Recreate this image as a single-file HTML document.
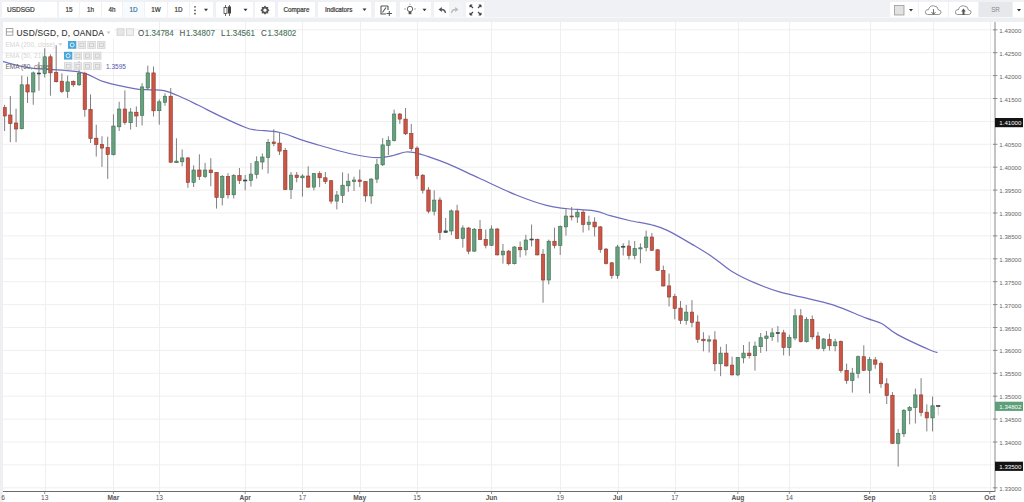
<!DOCTYPE html>
<html><head><meta charset="utf-8">
<style>
*{margin:0;padding:0;box-sizing:border-box}
html,body{width:1024px;height:502px;overflow:hidden;background:#fff;font-family:"Liberation Sans",sans-serif}
#tb{position:absolute;left:0;top:0;width:1024px;height:17px;background:#eff1f4}
#sep{position:absolute;left:0;top:17px;width:1024px;height:5px;background:#edf0f3;border-top:1px solid #f7f8fa}
.bt{position:absolute;top:2px;height:15px;background:#fff;color:#383838;font-size:6.3px;line-height:15px;text-align:center;-webkit-text-stroke:0.2px #383838}
svg{position:absolute;left:0;top:0}
.pl{font-size:6.1px;fill:#666}
.tl{font-size:6.6px;fill:#555}
.b{font-weight:bold}
.lg{position:absolute;white-space:nowrap}
.ohlc{top:28.2px;font-size:8px;color:#4a7159;-webkit-text-stroke:0.1px #4a7159;transform:scaleY(1.15);transform-origin:0 0}
</style></head><body>
<svg width="1024" height="502" viewBox="0 0 1024 502">
<g stroke="#efeff0" stroke-width="1">
<line x1="45.5" y1="22" x2="45.5" y2="491"/>
<line x1="113.5" y1="22" x2="113.5" y2="491"/>
<line x1="159.5" y1="22" x2="159.5" y2="491"/>
<line x1="245.5" y1="22" x2="245.5" y2="491"/>
<line x1="302.5" y1="22" x2="302.5" y2="491"/>
<line x1="360.5" y1="22" x2="360.5" y2="491"/>
<line x1="417.5" y1="22" x2="417.5" y2="491"/>
<line x1="491.5" y1="22" x2="491.5" y2="491"/>
<line x1="560.5" y1="22" x2="560.5" y2="491"/>
<line x1="618.5" y1="22" x2="618.5" y2="491"/>
<line x1="675.5" y1="22" x2="675.5" y2="491"/>
<line x1="738.5" y1="22" x2="738.5" y2="491"/>
<line x1="789.5" y1="22" x2="789.5" y2="491"/>
<line x1="870.5" y1="22" x2="870.5" y2="491"/>
<line x1="933.5" y1="22" x2="933.5" y2="491"/>
<line x1="990.5" y1="22" x2="990.5" y2="491"/>
<line x1="2" y1="29.80" x2="995" y2="29.80"/>
<line x1="2" y1="52.70" x2="995" y2="52.70"/>
<line x1="2" y1="75.60" x2="995" y2="75.60"/>
<line x1="2" y1="98.50" x2="995" y2="98.50"/>
<line x1="2" y1="121.40" x2="995" y2="121.40"/>
<line x1="2" y1="144.30" x2="995" y2="144.30"/>
<line x1="2" y1="167.20" x2="995" y2="167.20"/>
<line x1="2" y1="190.10" x2="995" y2="190.10"/>
<line x1="2" y1="213.00" x2="995" y2="213.00"/>
<line x1="2" y1="235.90" x2="995" y2="235.90"/>
<line x1="2" y1="258.80" x2="995" y2="258.80"/>
<line x1="2" y1="281.70" x2="995" y2="281.70"/>
<line x1="2" y1="304.60" x2="995" y2="304.60"/>
<line x1="2" y1="327.50" x2="995" y2="327.50"/>
<line x1="2" y1="350.40" x2="995" y2="350.40"/>
<line x1="2" y1="373.30" x2="995" y2="373.30"/>
<line x1="2" y1="396.20" x2="995" y2="396.20"/>
<line x1="2" y1="419.10" x2="995" y2="419.10"/>
<line x1="2" y1="442.00" x2="995" y2="442.00"/>
<line x1="2" y1="464.90" x2="995" y2="464.90"/>
<line x1="2" y1="487.80" x2="995" y2="487.80"/>
</g>
<path d="M0.0,61.0 C0.5,61.1 -2.1,60.5 3.2,61.7 C8.5,62.9 19.1,66.4 31.9,68.1 C44.6,69.8 67.8,69.8 79.7,72.1 C91.7,74.4 94.3,78.9 103.6,81.7 C112.9,84.5 127.8,87.5 135.5,88.8 C143.2,90.1 145.2,89.5 150.0,89.8 C154.8,90.1 159.0,89.5 164.0,90.6 C169.0,91.7 174.4,94.1 180.0,96.5 C185.6,98.9 190.9,101.6 197.8,105.0 C204.8,108.4 213.7,113.2 221.7,116.9 C229.7,120.7 239.9,125.3 245.6,127.5 C251.3,129.7 250.3,129.2 256.0,130.0 C261.7,130.8 272.5,130.9 279.8,132.5 C287.1,134.1 293.6,137.2 300.0,139.3 C306.4,141.4 312.5,143.2 318.5,145.0 C324.5,146.8 330.3,148.5 335.9,150.0 C341.5,151.5 346.5,152.8 351.9,154.0 C357.3,155.2 363.6,156.4 368.5,157.0 C373.4,157.6 376.9,157.8 381.0,157.5 C385.1,157.2 388.8,156.4 393.0,155.5 C397.2,154.6 402.2,152.4 406.0,152.0 C409.8,151.6 412.8,152.4 416.0,153.0 C419.2,153.6 419.8,153.7 425.0,155.5 C430.2,157.3 438.4,159.9 447.5,163.7 C456.6,167.5 467.9,173.1 479.4,178.3 C490.8,183.5 505.0,190.5 516.2,195.0 C527.4,199.5 538.3,203.2 546.5,205.4 C554.7,207.7 557.6,207.6 565.6,208.5 C573.6,209.4 586.9,209.7 594.3,210.9 C601.7,212.1 604.4,214.1 610.2,215.7 C616.1,217.3 622.5,218.9 629.4,220.5 C636.3,222.1 645.5,223.3 651.9,225.0 C658.3,226.7 661.2,227.4 667.8,230.6 C674.4,233.8 684.3,239.7 691.7,244.1 C699.1,248.5 705.8,252.4 712.4,256.9 C719.0,261.4 724.4,266.8 731.6,271.2 C738.8,275.6 747.5,279.8 755.5,283.2 C763.5,286.6 771.7,289.6 779.4,291.9 C787.1,294.2 792.8,295.0 801.9,297.2 C811.0,299.4 823.1,301.7 833.7,305.1 C844.3,308.6 857.6,314.8 865.6,317.9 C873.6,321.0 876.3,320.7 881.6,323.5 C886.9,326.3 889.5,330.2 897.5,334.6 C905.5,339.0 922.7,346.8 929.4,349.8 C936.1,352.8 936.1,352.1 937.5,352.5" fill="none" stroke="#6e6ebf" stroke-width="1.25" stroke-linejoin="round"/>
<g>
<line x1="4.60" y1="104.8" x2="4.60" y2="131.0" stroke="#727274" stroke-width="0.9"/>
<rect x="2.90" y="107.6" width="3.4" height="8.4" fill="#cc5646" stroke="#8e3a2f" stroke-width="0.6"/>
<line x1="10.33" y1="96.0" x2="10.33" y2="142.2" stroke="#727274" stroke-width="0.9"/>
<rect x="8.63" y="115.0" width="3.4" height="8.6" fill="#cc5646" stroke="#8e3a2f" stroke-width="0.6"/>
<line x1="16.06" y1="108.7" x2="16.06" y2="142.2" stroke="#727274" stroke-width="0.9"/>
<rect x="14.36" y="123.0" width="3.4" height="6.0" fill="#cc5646" stroke="#8e3a2f" stroke-width="0.6"/>
<line x1="21.79" y1="75.6" x2="21.79" y2="129.5" stroke="#727274" stroke-width="0.9"/>
<rect x="20.09" y="84.8" width="3.4" height="43.9" fill="#66a07f" stroke="#3d7052" stroke-width="0.6"/>
<line x1="27.52" y1="76.7" x2="27.52" y2="103.0" stroke="#727274" stroke-width="0.9"/>
<rect x="25.82" y="84.8" width="3.4" height="7.2" fill="#cc5646" stroke="#8e3a2f" stroke-width="0.6"/>
<line x1="33.24" y1="71.5" x2="33.24" y2="104.8" stroke="#727274" stroke-width="0.9"/>
<rect x="31.54" y="72.9" width="3.4" height="19.1" fill="#66a07f" stroke="#3d7052" stroke-width="0.6"/>
<line x1="38.97" y1="62.0" x2="38.97" y2="90.7" stroke="#727274" stroke-width="0.9"/>
<rect x="37.27" y="73.0" width="3.4" height="1.0" fill="#42594e" stroke="#2f433a" stroke-width="0.6"/>
<line x1="44.70" y1="48.3" x2="44.70" y2="77.5" stroke="#727274" stroke-width="0.9"/>
<rect x="43.00" y="56.8" width="3.4" height="16.8" fill="#66a07f" stroke="#3d7052" stroke-width="0.6"/>
<line x1="50.43" y1="54.3" x2="50.43" y2="95.7" stroke="#727274" stroke-width="0.9"/>
<rect x="48.73" y="56.8" width="3.4" height="16.1" fill="#cc5646" stroke="#8e3a2f" stroke-width="0.6"/>
<line x1="56.16" y1="45.3" x2="56.16" y2="82.5" stroke="#727274" stroke-width="0.9"/>
<rect x="54.46" y="72.5" width="3.4" height="9.2" fill="#cc5646" stroke="#8e3a2f" stroke-width="0.6"/>
<line x1="61.88" y1="73.3" x2="61.88" y2="93.0" stroke="#727274" stroke-width="0.9"/>
<rect x="60.18" y="81.2" width="3.4" height="10.3" fill="#cc5646" stroke="#8e3a2f" stroke-width="0.6"/>
<line x1="67.61" y1="75.6" x2="67.61" y2="98.0" stroke="#727274" stroke-width="0.9"/>
<rect x="65.91" y="81.9" width="3.4" height="9.5" fill="#66a07f" stroke="#3d7052" stroke-width="0.6"/>
<line x1="73.34" y1="80.4" x2="73.34" y2="86.9" stroke="#727274" stroke-width="0.9"/>
<rect x="71.64" y="81.4" width="3.4" height="3.4" fill="#cc5646" stroke="#8e3a2f" stroke-width="0.6"/>
<line x1="79.07" y1="61.5" x2="79.07" y2="86.0" stroke="#727274" stroke-width="0.9"/>
<rect x="77.37" y="73.2" width="3.4" height="11.6" fill="#66a07f" stroke="#3d7052" stroke-width="0.6"/>
<line x1="84.80" y1="71.8" x2="84.80" y2="116.7" stroke="#727274" stroke-width="0.9"/>
<rect x="83.10" y="73.2" width="3.4" height="36.3" fill="#cc5646" stroke="#8e3a2f" stroke-width="0.6"/>
<line x1="90.52" y1="94.4" x2="90.52" y2="143.0" stroke="#727274" stroke-width="0.9"/>
<rect x="88.82" y="109.3" width="3.4" height="29.3" fill="#cc5646" stroke="#8e3a2f" stroke-width="0.6"/>
<line x1="96.25" y1="124.7" x2="96.25" y2="156.6" stroke="#727274" stroke-width="0.9"/>
<rect x="94.55" y="138.2" width="3.4" height="6.4" fill="#cc5646" stroke="#8e3a2f" stroke-width="0.6"/>
<line x1="101.98" y1="136.3" x2="101.98" y2="166.9" stroke="#727274" stroke-width="0.9"/>
<rect x="100.28" y="144.3" width="3.4" height="3.8" fill="#cc5646" stroke="#8e3a2f" stroke-width="0.6"/>
<line x1="107.71" y1="136.7" x2="107.71" y2="178.9" stroke="#727274" stroke-width="0.9"/>
<rect x="106.01" y="147.5" width="3.4" height="7.0" fill="#cc5646" stroke="#8e3a2f" stroke-width="0.6"/>
<line x1="113.44" y1="114.3" x2="113.44" y2="155.5" stroke="#727274" stroke-width="0.9"/>
<rect x="111.74" y="126.0" width="3.4" height="28.7" fill="#66a07f" stroke="#3d7052" stroke-width="0.6"/>
<line x1="119.16" y1="101.8" x2="119.16" y2="131.0" stroke="#727274" stroke-width="0.9"/>
<rect x="117.46" y="109.0" width="3.4" height="17.8" fill="#66a07f" stroke="#3d7052" stroke-width="0.6"/>
<line x1="124.89" y1="90.4" x2="124.89" y2="124.7" stroke="#727274" stroke-width="0.9"/>
<rect x="123.19" y="109.0" width="3.4" height="13.5" fill="#cc5646" stroke="#8e3a2f" stroke-width="0.6"/>
<line x1="130.62" y1="108.0" x2="130.62" y2="129.5" stroke="#727274" stroke-width="0.9"/>
<rect x="128.92" y="112.0" width="3.4" height="10.7" fill="#66a07f" stroke="#3d7052" stroke-width="0.6"/>
<line x1="136.35" y1="106.4" x2="136.35" y2="127.0" stroke="#727274" stroke-width="0.9"/>
<rect x="134.65" y="112.2" width="3.4" height="3.8" fill="#cc5646" stroke="#8e3a2f" stroke-width="0.6"/>
<line x1="142.08" y1="83.2" x2="142.08" y2="125.5" stroke="#727274" stroke-width="0.9"/>
<rect x="140.38" y="86.9" width="3.4" height="28.4" fill="#66a07f" stroke="#3d7052" stroke-width="0.6"/>
<line x1="147.80" y1="65.7" x2="147.80" y2="90.0" stroke="#727274" stroke-width="0.9"/>
<rect x="146.10" y="72.9" width="3.4" height="15.1" fill="#66a07f" stroke="#3d7052" stroke-width="0.6"/>
<line x1="153.53" y1="66.5" x2="153.53" y2="116.5" stroke="#727274" stroke-width="0.9"/>
<rect x="151.83" y="72.9" width="3.4" height="37.9" fill="#cc5646" stroke="#8e3a2f" stroke-width="0.6"/>
<line x1="159.26" y1="99.4" x2="159.26" y2="124.7" stroke="#727274" stroke-width="0.9"/>
<rect x="157.56" y="101.8" width="3.4" height="8.9" fill="#66a07f" stroke="#3d7052" stroke-width="0.6"/>
<line x1="164.99" y1="93.3" x2="164.99" y2="105.8" stroke="#727274" stroke-width="0.9"/>
<rect x="163.29" y="96.2" width="3.4" height="6.1" fill="#66a07f" stroke="#3d7052" stroke-width="0.6"/>
<line x1="170.72" y1="88.0" x2="170.72" y2="163.0" stroke="#727274" stroke-width="0.9"/>
<rect x="169.02" y="96.2" width="3.4" height="66.0" fill="#cc5646" stroke="#8e3a2f" stroke-width="0.6"/>
<line x1="176.44" y1="138.3" x2="176.44" y2="163.0" stroke="#727274" stroke-width="0.9"/>
<rect x="174.74" y="161.1" width="3.4" height="1.6" fill="#66a07f" stroke="#3d7052" stroke-width="0.6"/>
<line x1="182.17" y1="149.5" x2="182.17" y2="166.2" stroke="#727274" stroke-width="0.9"/>
<rect x="180.47" y="157.9" width="3.4" height="3.9" fill="#66a07f" stroke="#3d7052" stroke-width="0.6"/>
<line x1="187.90" y1="157.0" x2="187.90" y2="187.8" stroke="#727274" stroke-width="0.9"/>
<rect x="186.20" y="157.9" width="3.4" height="24.5" fill="#cc5646" stroke="#8e3a2f" stroke-width="0.6"/>
<line x1="193.63" y1="165.4" x2="193.63" y2="187.0" stroke="#727274" stroke-width="0.9"/>
<rect x="191.93" y="170.0" width="3.4" height="12.4" fill="#66a07f" stroke="#3d7052" stroke-width="0.6"/>
<line x1="199.36" y1="154.3" x2="199.36" y2="180.0" stroke="#727274" stroke-width="0.9"/>
<rect x="197.66" y="170.0" width="3.4" height="6.4" fill="#cc5646" stroke="#8e3a2f" stroke-width="0.6"/>
<line x1="205.08" y1="162.9" x2="205.08" y2="178.0" stroke="#727274" stroke-width="0.9"/>
<rect x="203.38" y="170.0" width="3.4" height="6.4" fill="#66a07f" stroke="#3d7052" stroke-width="0.6"/>
<line x1="210.81" y1="158.2" x2="210.81" y2="186.2" stroke="#727274" stroke-width="0.9"/>
<rect x="209.11" y="170.0" width="3.4" height="2.7" fill="#cc5646" stroke="#8e3a2f" stroke-width="0.6"/>
<line x1="216.54" y1="172.0" x2="216.54" y2="208.6" stroke="#727274" stroke-width="0.9"/>
<rect x="214.84" y="172.5" width="3.4" height="24.9" fill="#cc5646" stroke="#8e3a2f" stroke-width="0.6"/>
<line x1="222.27" y1="175.0" x2="222.27" y2="205.4" stroke="#727274" stroke-width="0.9"/>
<rect x="220.57" y="176.4" width="3.4" height="21.0" fill="#66a07f" stroke="#3d7052" stroke-width="0.6"/>
<line x1="228.00" y1="173.2" x2="228.00" y2="198.5" stroke="#727274" stroke-width="0.9"/>
<rect x="226.30" y="176.4" width="3.4" height="18.4" fill="#cc5646" stroke="#8e3a2f" stroke-width="0.6"/>
<line x1="233.72" y1="174.0" x2="233.72" y2="198.5" stroke="#727274" stroke-width="0.9"/>
<rect x="232.02" y="175.5" width="3.4" height="19.3" fill="#66a07f" stroke="#3d7052" stroke-width="0.6"/>
<line x1="239.45" y1="168.0" x2="239.45" y2="184.0" stroke="#727274" stroke-width="0.9"/>
<rect x="237.75" y="175.5" width="3.4" height="5.0" fill="#cc5646" stroke="#8e3a2f" stroke-width="0.6"/>
<line x1="245.18" y1="175.0" x2="245.18" y2="190.2" stroke="#727274" stroke-width="0.9"/>
<rect x="243.48" y="180.0" width="3.4" height="1.0" fill="#42594e" stroke="#2f433a" stroke-width="0.6"/>
<line x1="250.91" y1="163.0" x2="250.91" y2="186.5" stroke="#727274" stroke-width="0.9"/>
<rect x="249.21" y="174.1" width="3.4" height="6.4" fill="#66a07f" stroke="#3d7052" stroke-width="0.6"/>
<line x1="256.64" y1="156.3" x2="256.64" y2="178.6" stroke="#727274" stroke-width="0.9"/>
<rect x="254.94" y="161.7" width="3.4" height="12.7" fill="#66a07f" stroke="#3d7052" stroke-width="0.6"/>
<line x1="262.36" y1="153.5" x2="262.36" y2="169.5" stroke="#727274" stroke-width="0.9"/>
<rect x="260.66" y="157.0" width="3.4" height="5.0" fill="#66a07f" stroke="#3d7052" stroke-width="0.6"/>
<line x1="268.09" y1="139.1" x2="268.09" y2="173.5" stroke="#727274" stroke-width="0.9"/>
<rect x="266.39" y="142.3" width="3.4" height="15.2" fill="#66a07f" stroke="#3d7052" stroke-width="0.6"/>
<line x1="273.82" y1="129.2" x2="273.82" y2="146.3" stroke="#727274" stroke-width="0.9"/>
<rect x="272.12" y="142.0" width="3.4" height="1.6" fill="#cc5646" stroke="#8e3a2f" stroke-width="0.6"/>
<line x1="279.55" y1="132.7" x2="279.55" y2="155.0" stroke="#727274" stroke-width="0.9"/>
<rect x="277.85" y="143.1" width="3.4" height="8.0" fill="#cc5646" stroke="#8e3a2f" stroke-width="0.6"/>
<line x1="285.28" y1="147.9" x2="285.28" y2="190.0" stroke="#727274" stroke-width="0.9"/>
<rect x="283.58" y="150.3" width="3.4" height="39.3" fill="#cc5646" stroke="#8e3a2f" stroke-width="0.6"/>
<line x1="291.00" y1="172.0" x2="291.00" y2="199.0" stroke="#727274" stroke-width="0.9"/>
<rect x="289.30" y="175.1" width="3.4" height="14.5" fill="#66a07f" stroke="#3d7052" stroke-width="0.6"/>
<line x1="296.73" y1="172.0" x2="296.73" y2="182.3" stroke="#727274" stroke-width="0.9"/>
<rect x="295.03" y="175.1" width="3.4" height="2.5" fill="#cc5646" stroke="#8e3a2f" stroke-width="0.6"/>
<line x1="302.46" y1="174.2" x2="302.46" y2="196.6" stroke="#727274" stroke-width="0.9"/>
<rect x="300.76" y="176.0" width="3.4" height="1.8" fill="#66a07f" stroke="#3d7052" stroke-width="0.6"/>
<line x1="308.19" y1="166.3" x2="308.19" y2="188.0" stroke="#727274" stroke-width="0.9"/>
<rect x="306.49" y="176.0" width="3.4" height="11.1" fill="#cc5646" stroke="#8e3a2f" stroke-width="0.6"/>
<line x1="313.92" y1="173.0" x2="313.92" y2="190.3" stroke="#727274" stroke-width="0.9"/>
<rect x="312.22" y="173.5" width="3.4" height="13.6" fill="#66a07f" stroke="#3d7052" stroke-width="0.6"/>
<line x1="319.64" y1="171.2" x2="319.64" y2="187.1" stroke="#727274" stroke-width="0.9"/>
<rect x="317.94" y="173.5" width="3.4" height="4.3" fill="#cc5646" stroke="#8e3a2f" stroke-width="0.6"/>
<line x1="325.37" y1="172.0" x2="325.37" y2="184.0" stroke="#727274" stroke-width="0.9"/>
<rect x="323.67" y="177.8" width="3.4" height="3.7" fill="#cc5646" stroke="#8e3a2f" stroke-width="0.6"/>
<line x1="331.10" y1="180.0" x2="331.10" y2="203.8" stroke="#727274" stroke-width="0.9"/>
<rect x="329.40" y="180.7" width="3.4" height="20.4" fill="#cc5646" stroke="#8e3a2f" stroke-width="0.6"/>
<line x1="336.83" y1="191.0" x2="336.83" y2="209.4" stroke="#727274" stroke-width="0.9"/>
<rect x="335.13" y="195.0" width="3.4" height="6.1" fill="#66a07f" stroke="#3d7052" stroke-width="0.6"/>
<line x1="342.56" y1="172.4" x2="342.56" y2="203.0" stroke="#727274" stroke-width="0.9"/>
<rect x="340.86" y="185.2" width="3.4" height="10.2" fill="#66a07f" stroke="#3d7052" stroke-width="0.6"/>
<line x1="348.28" y1="173.5" x2="348.28" y2="191.9" stroke="#727274" stroke-width="0.9"/>
<rect x="346.58" y="181.2" width="3.4" height="4.6" fill="#66a07f" stroke="#3d7052" stroke-width="0.6"/>
<line x1="354.01" y1="176.7" x2="354.01" y2="191.0" stroke="#727274" stroke-width="0.9"/>
<rect x="352.31" y="180.0" width="3.4" height="1.5" fill="#66a07f" stroke="#3d7052" stroke-width="0.6"/>
<line x1="359.74" y1="169.6" x2="359.74" y2="187.1" stroke="#727274" stroke-width="0.9"/>
<rect x="358.04" y="180.0" width="3.4" height="1.5" fill="#cc5646" stroke="#8e3a2f" stroke-width="0.6"/>
<line x1="365.47" y1="181.0" x2="365.47" y2="201.8" stroke="#727274" stroke-width="0.9"/>
<rect x="363.77" y="181.5" width="3.4" height="14.4" fill="#cc5646" stroke="#8e3a2f" stroke-width="0.6"/>
<line x1="371.20" y1="178.0" x2="371.20" y2="203.8" stroke="#727274" stroke-width="0.9"/>
<rect x="369.50" y="179.1" width="3.4" height="16.8" fill="#66a07f" stroke="#3d7052" stroke-width="0.6"/>
<line x1="376.92" y1="159.0" x2="376.92" y2="183.1" stroke="#727274" stroke-width="0.9"/>
<rect x="375.22" y="164.7" width="3.4" height="14.4" fill="#66a07f" stroke="#3d7052" stroke-width="0.6"/>
<line x1="382.65" y1="138.2" x2="382.65" y2="166.0" stroke="#727274" stroke-width="0.9"/>
<rect x="380.95" y="144.9" width="3.4" height="19.9" fill="#66a07f" stroke="#3d7052" stroke-width="0.6"/>
<line x1="388.38" y1="136.3" x2="388.38" y2="155.0" stroke="#727274" stroke-width="0.9"/>
<rect x="386.68" y="140.6" width="3.4" height="4.8" fill="#66a07f" stroke="#3d7052" stroke-width="0.6"/>
<line x1="394.11" y1="109.6" x2="394.11" y2="141.5" stroke="#727274" stroke-width="0.9"/>
<rect x="392.41" y="114.0" width="3.4" height="26.6" fill="#66a07f" stroke="#3d7052" stroke-width="0.6"/>
<line x1="399.84" y1="113.0" x2="399.84" y2="123.9" stroke="#727274" stroke-width="0.9"/>
<rect x="398.14" y="114.0" width="3.4" height="5.1" fill="#cc5646" stroke="#8e3a2f" stroke-width="0.6"/>
<line x1="405.56" y1="108.0" x2="405.56" y2="135.0" stroke="#727274" stroke-width="0.9"/>
<rect x="403.86" y="119.1" width="3.4" height="14.7" fill="#cc5646" stroke="#8e3a2f" stroke-width="0.6"/>
<line x1="411.29" y1="123.9" x2="411.29" y2="151.0" stroke="#727274" stroke-width="0.9"/>
<rect x="409.59" y="133.5" width="3.4" height="15.1" fill="#cc5646" stroke="#8e3a2f" stroke-width="0.6"/>
<line x1="417.02" y1="146.2" x2="417.02" y2="179.1" stroke="#727274" stroke-width="0.9"/>
<rect x="415.32" y="148.1" width="3.4" height="27.5" fill="#cc5646" stroke="#8e3a2f" stroke-width="0.6"/>
<line x1="422.75" y1="174.0" x2="422.75" y2="193.5" stroke="#727274" stroke-width="0.9"/>
<rect x="421.05" y="175.2" width="3.4" height="15.0" fill="#cc5646" stroke="#8e3a2f" stroke-width="0.6"/>
<line x1="428.48" y1="187.1" x2="428.48" y2="213.4" stroke="#727274" stroke-width="0.9"/>
<rect x="426.78" y="190.0" width="3.4" height="21.2" fill="#cc5646" stroke="#8e3a2f" stroke-width="0.6"/>
<line x1="434.20" y1="190.3" x2="434.20" y2="215.5" stroke="#727274" stroke-width="0.9"/>
<rect x="432.50" y="200.1" width="3.4" height="11.1" fill="#66a07f" stroke="#3d7052" stroke-width="0.6"/>
<line x1="439.93" y1="197.3" x2="439.93" y2="240.0" stroke="#727274" stroke-width="0.9"/>
<rect x="438.23" y="200.0" width="3.4" height="32.5" fill="#cc5646" stroke="#8e3a2f" stroke-width="0.6"/>
<line x1="445.66" y1="218.0" x2="445.66" y2="233.0" stroke="#727274" stroke-width="0.9"/>
<rect x="443.96" y="230.9" width="3.4" height="1.5" fill="#42594e" stroke="#2f433a" stroke-width="0.6"/>
<line x1="451.39" y1="209.4" x2="451.39" y2="235.0" stroke="#727274" stroke-width="0.9"/>
<rect x="449.69" y="210.9" width="3.4" height="20.1" fill="#66a07f" stroke="#3d7052" stroke-width="0.6"/>
<line x1="457.12" y1="204.8" x2="457.12" y2="239.0" stroke="#727274" stroke-width="0.9"/>
<rect x="455.42" y="210.9" width="3.4" height="27.6" fill="#cc5646" stroke="#8e3a2f" stroke-width="0.6"/>
<line x1="462.84" y1="225.4" x2="462.84" y2="247.6" stroke="#727274" stroke-width="0.9"/>
<rect x="461.14" y="228.0" width="3.4" height="10.5" fill="#66a07f" stroke="#3d7052" stroke-width="0.6"/>
<line x1="468.57" y1="227.0" x2="468.57" y2="254.2" stroke="#727274" stroke-width="0.9"/>
<rect x="466.87" y="228.0" width="3.4" height="23.2" fill="#cc5646" stroke="#8e3a2f" stroke-width="0.6"/>
<line x1="474.30" y1="228.0" x2="474.30" y2="252.0" stroke="#727274" stroke-width="0.9"/>
<rect x="472.60" y="229.2" width="3.4" height="21.9" fill="#66a07f" stroke="#3d7052" stroke-width="0.6"/>
<line x1="480.03" y1="220.1" x2="480.03" y2="240.0" stroke="#727274" stroke-width="0.9"/>
<rect x="478.33" y="229.3" width="3.4" height="10.2" fill="#cc5646" stroke="#8e3a2f" stroke-width="0.6"/>
<line x1="485.76" y1="229.5" x2="485.76" y2="248.4" stroke="#727274" stroke-width="0.9"/>
<rect x="484.06" y="239.4" width="3.4" height="5.9" fill="#cc5646" stroke="#8e3a2f" stroke-width="0.6"/>
<line x1="491.48" y1="225.4" x2="491.48" y2="246.0" stroke="#727274" stroke-width="0.9"/>
<rect x="489.78" y="229.0" width="3.4" height="16.3" fill="#66a07f" stroke="#3d7052" stroke-width="0.6"/>
<line x1="497.21" y1="228.0" x2="497.21" y2="255.5" stroke="#727274" stroke-width="0.9"/>
<rect x="495.51" y="229.0" width="3.4" height="25.9" fill="#cc5646" stroke="#8e3a2f" stroke-width="0.6"/>
<line x1="502.94" y1="244.0" x2="502.94" y2="263.6" stroke="#727274" stroke-width="0.9"/>
<rect x="501.24" y="251.1" width="3.4" height="3.8" fill="#66a07f" stroke="#3d7052" stroke-width="0.6"/>
<line x1="508.67" y1="250.0" x2="508.67" y2="265.3" stroke="#727274" stroke-width="0.9"/>
<rect x="506.97" y="251.1" width="3.4" height="12.6" fill="#cc5646" stroke="#8e3a2f" stroke-width="0.6"/>
<line x1="514.40" y1="246.0" x2="514.40" y2="264.5" stroke="#727274" stroke-width="0.9"/>
<rect x="512.70" y="247.0" width="3.4" height="16.7" fill="#66a07f" stroke="#3d7052" stroke-width="0.6"/>
<line x1="520.12" y1="241.5" x2="520.12" y2="257.3" stroke="#727274" stroke-width="0.9"/>
<rect x="518.42" y="247.5" width="3.4" height="2.3" fill="#cc5646" stroke="#8e3a2f" stroke-width="0.6"/>
<line x1="525.85" y1="234.8" x2="525.85" y2="255.5" stroke="#727274" stroke-width="0.9"/>
<rect x="524.15" y="240.0" width="3.4" height="9.8" fill="#66a07f" stroke="#3d7052" stroke-width="0.6"/>
<line x1="531.58" y1="224.5" x2="531.58" y2="246.5" stroke="#727274" stroke-width="0.9"/>
<rect x="529.88" y="239.0" width="3.4" height="1.0" fill="#42594e" stroke="#2f433a" stroke-width="0.6"/>
<line x1="537.31" y1="238.5" x2="537.31" y2="255.5" stroke="#727274" stroke-width="0.9"/>
<rect x="535.61" y="239.4" width="3.4" height="15.5" fill="#cc5646" stroke="#8e3a2f" stroke-width="0.6"/>
<line x1="543.04" y1="249.1" x2="543.04" y2="302.7" stroke="#727274" stroke-width="0.9"/>
<rect x="541.34" y="254.2" width="3.4" height="25.8" fill="#cc5646" stroke="#8e3a2f" stroke-width="0.6"/>
<line x1="548.76" y1="239.6" x2="548.76" y2="284.4" stroke="#727274" stroke-width="0.9"/>
<rect x="547.06" y="241.2" width="3.4" height="38.8" fill="#66a07f" stroke="#3d7052" stroke-width="0.6"/>
<line x1="554.49" y1="227.7" x2="554.49" y2="248.4" stroke="#727274" stroke-width="0.9"/>
<rect x="552.79" y="241.2" width="3.4" height="4.3" fill="#cc5646" stroke="#8e3a2f" stroke-width="0.6"/>
<line x1="560.22" y1="225.5" x2="560.22" y2="254.9" stroke="#727274" stroke-width="0.9"/>
<rect x="558.52" y="226.6" width="3.4" height="18.9" fill="#66a07f" stroke="#3d7052" stroke-width="0.6"/>
<line x1="565.95" y1="208.5" x2="565.95" y2="235.6" stroke="#727274" stroke-width="0.9"/>
<rect x="564.25" y="216.0" width="3.4" height="10.9" fill="#66a07f" stroke="#3d7052" stroke-width="0.6"/>
<line x1="571.68" y1="207.0" x2="571.68" y2="220.5" stroke="#727274" stroke-width="0.9"/>
<rect x="569.98" y="216.0" width="3.4" height="1.0" fill="#cc5646" stroke="#8e3a2f" stroke-width="0.6"/>
<line x1="577.40" y1="209.3" x2="577.40" y2="222.9" stroke="#727274" stroke-width="0.9"/>
<rect x="575.70" y="212.2" width="3.4" height="4.8" fill="#66a07f" stroke="#3d7052" stroke-width="0.6"/>
<line x1="583.13" y1="210.1" x2="583.13" y2="232.5" stroke="#727274" stroke-width="0.9"/>
<rect x="581.43" y="212.2" width="3.4" height="12.3" fill="#cc5646" stroke="#8e3a2f" stroke-width="0.6"/>
<line x1="588.86" y1="215.7" x2="588.86" y2="230.4" stroke="#727274" stroke-width="0.9"/>
<rect x="587.16" y="222.1" width="3.4" height="2.4" fill="#66a07f" stroke="#3d7052" stroke-width="0.6"/>
<line x1="594.59" y1="217.3" x2="594.59" y2="236.4" stroke="#727274" stroke-width="0.9"/>
<rect x="592.89" y="222.1" width="3.4" height="4.8" fill="#cc5646" stroke="#8e3a2f" stroke-width="0.6"/>
<line x1="600.32" y1="226.0" x2="600.32" y2="252.8" stroke="#727274" stroke-width="0.9"/>
<rect x="598.62" y="226.9" width="3.4" height="22.5" fill="#cc5646" stroke="#8e3a2f" stroke-width="0.6"/>
<line x1="606.04" y1="248.0" x2="606.04" y2="264.5" stroke="#727274" stroke-width="0.9"/>
<rect x="604.34" y="249.1" width="3.4" height="14.4" fill="#cc5646" stroke="#8e3a2f" stroke-width="0.6"/>
<line x1="611.77" y1="262.0" x2="611.77" y2="278.8" stroke="#727274" stroke-width="0.9"/>
<rect x="610.07" y="262.8" width="3.4" height="12.8" fill="#cc5646" stroke="#8e3a2f" stroke-width="0.6"/>
<line x1="617.50" y1="244.8" x2="617.50" y2="278.8" stroke="#727274" stroke-width="0.9"/>
<rect x="615.80" y="246.9" width="3.4" height="28.7" fill="#66a07f" stroke="#3d7052" stroke-width="0.6"/>
<line x1="623.23" y1="243.3" x2="623.23" y2="255.5" stroke="#727274" stroke-width="0.9"/>
<rect x="621.53" y="246.2" width="3.4" height="1.0" fill="#42594e" stroke="#2f433a" stroke-width="0.6"/>
<line x1="628.96" y1="240.3" x2="628.96" y2="259.5" stroke="#727274" stroke-width="0.9"/>
<rect x="627.26" y="246.0" width="3.4" height="9.5" fill="#cc5646" stroke="#8e3a2f" stroke-width="0.6"/>
<line x1="634.68" y1="241.0" x2="634.68" y2="259.3" stroke="#727274" stroke-width="0.9"/>
<rect x="632.98" y="248.6" width="3.4" height="7.0" fill="#66a07f" stroke="#3d7052" stroke-width="0.6"/>
<line x1="640.41" y1="243.3" x2="640.41" y2="263.2" stroke="#727274" stroke-width="0.9"/>
<rect x="638.71" y="247.8" width="3.4" height="1.1" fill="#66a07f" stroke="#3d7052" stroke-width="0.6"/>
<line x1="646.14" y1="230.6" x2="646.14" y2="251.3" stroke="#727274" stroke-width="0.9"/>
<rect x="644.44" y="237.0" width="3.4" height="10.3" fill="#66a07f" stroke="#3d7052" stroke-width="0.6"/>
<line x1="651.87" y1="233.0" x2="651.87" y2="251.0" stroke="#727274" stroke-width="0.9"/>
<rect x="650.17" y="237.0" width="3.4" height="13.3" fill="#cc5646" stroke="#8e3a2f" stroke-width="0.6"/>
<line x1="657.60" y1="249.0" x2="657.60" y2="271.0" stroke="#727274" stroke-width="0.9"/>
<rect x="655.90" y="249.8" width="3.4" height="20.6" fill="#cc5646" stroke="#8e3a2f" stroke-width="0.6"/>
<line x1="663.32" y1="265.6" x2="663.32" y2="286.5" stroke="#727274" stroke-width="0.9"/>
<rect x="661.62" y="270.4" width="3.4" height="15.6" fill="#cc5646" stroke="#8e3a2f" stroke-width="0.6"/>
<line x1="669.05" y1="273.6" x2="669.05" y2="306.5" stroke="#727274" stroke-width="0.9"/>
<rect x="667.35" y="285.9" width="3.4" height="11.1" fill="#cc5646" stroke="#8e3a2f" stroke-width="0.6"/>
<line x1="674.78" y1="293.8" x2="674.78" y2="319.3" stroke="#727274" stroke-width="0.9"/>
<rect x="673.08" y="296.6" width="3.4" height="11.8" fill="#cc5646" stroke="#8e3a2f" stroke-width="0.6"/>
<line x1="680.51" y1="301.0" x2="680.51" y2="324.0" stroke="#727274" stroke-width="0.9"/>
<rect x="678.81" y="308.1" width="3.4" height="12.3" fill="#cc5646" stroke="#8e3a2f" stroke-width="0.6"/>
<line x1="686.24" y1="304.9" x2="686.24" y2="324.8" stroke="#727274" stroke-width="0.9"/>
<rect x="684.54" y="312.1" width="3.4" height="8.3" fill="#66a07f" stroke="#3d7052" stroke-width="0.6"/>
<line x1="691.96" y1="300.1" x2="691.96" y2="327.2" stroke="#727274" stroke-width="0.9"/>
<rect x="690.26" y="312.1" width="3.4" height="10.3" fill="#cc5646" stroke="#8e3a2f" stroke-width="0.6"/>
<line x1="697.69" y1="315.3" x2="697.69" y2="342.9" stroke="#727274" stroke-width="0.9"/>
<rect x="695.99" y="322.0" width="3.4" height="17.3" fill="#cc5646" stroke="#8e3a2f" stroke-width="0.6"/>
<line x1="703.42" y1="332.2" x2="703.42" y2="351.3" stroke="#727274" stroke-width="0.9"/>
<rect x="701.72" y="339.2" width="3.4" height="1.6" fill="#cc5646" stroke="#8e3a2f" stroke-width="0.6"/>
<line x1="709.15" y1="335.4" x2="709.15" y2="352.5" stroke="#727274" stroke-width="0.9"/>
<rect x="707.45" y="339.8" width="3.4" height="1.3" fill="#66a07f" stroke="#3d7052" stroke-width="0.6"/>
<line x1="714.88" y1="331.2" x2="714.88" y2="371.1" stroke="#727274" stroke-width="0.9"/>
<rect x="713.18" y="339.9" width="3.4" height="23.9" fill="#cc5646" stroke="#8e3a2f" stroke-width="0.6"/>
<line x1="720.60" y1="346.8" x2="720.60" y2="376.2" stroke="#727274" stroke-width="0.9"/>
<rect x="718.90" y="353.1" width="3.4" height="10.7" fill="#66a07f" stroke="#3d7052" stroke-width="0.6"/>
<line x1="726.33" y1="344.1" x2="726.33" y2="366.7" stroke="#727274" stroke-width="0.9"/>
<rect x="724.63" y="353.1" width="3.4" height="12.8" fill="#cc5646" stroke="#8e3a2f" stroke-width="0.6"/>
<line x1="732.06" y1="356.7" x2="732.06" y2="375.5" stroke="#727274" stroke-width="0.9"/>
<rect x="730.36" y="365.1" width="3.4" height="9.8" fill="#cc5646" stroke="#8e3a2f" stroke-width="0.6"/>
<line x1="737.79" y1="357.0" x2="737.79" y2="376.2" stroke="#727274" stroke-width="0.9"/>
<rect x="736.09" y="357.4" width="3.4" height="17.5" fill="#66a07f" stroke="#3d7052" stroke-width="0.6"/>
<line x1="743.52" y1="345.0" x2="743.52" y2="363.3" stroke="#727274" stroke-width="0.9"/>
<rect x="741.82" y="353.1" width="3.4" height="4.8" fill="#66a07f" stroke="#3d7052" stroke-width="0.6"/>
<line x1="749.24" y1="341.8" x2="749.24" y2="358.5" stroke="#727274" stroke-width="0.9"/>
<rect x="747.54" y="353.1" width="3.4" height="2.6" fill="#cc5646" stroke="#8e3a2f" stroke-width="0.6"/>
<line x1="754.97" y1="341.5" x2="754.97" y2="370.6" stroke="#727274" stroke-width="0.9"/>
<rect x="753.27" y="346.1" width="3.4" height="9.6" fill="#66a07f" stroke="#3d7052" stroke-width="0.6"/>
<line x1="760.70" y1="333.0" x2="760.70" y2="352.9" stroke="#727274" stroke-width="0.9"/>
<rect x="759.00" y="337.7" width="3.4" height="9.0" fill="#66a07f" stroke="#3d7052" stroke-width="0.6"/>
<line x1="766.43" y1="331.0" x2="766.43" y2="351.3" stroke="#727274" stroke-width="0.9"/>
<rect x="764.73" y="336.0" width="3.4" height="2.6" fill="#66a07f" stroke="#3d7052" stroke-width="0.6"/>
<line x1="772.16" y1="328.1" x2="772.16" y2="340.9" stroke="#727274" stroke-width="0.9"/>
<rect x="770.46" y="332.9" width="3.4" height="3.9" fill="#66a07f" stroke="#3d7052" stroke-width="0.6"/>
<line x1="777.88" y1="326.0" x2="777.88" y2="342.3" stroke="#727274" stroke-width="0.9"/>
<rect x="776.18" y="332.5" width="3.4" height="1.1" fill="#42594e" stroke="#2f433a" stroke-width="0.6"/>
<line x1="783.61" y1="329.8" x2="783.61" y2="355.4" stroke="#727274" stroke-width="0.9"/>
<rect x="781.91" y="332.8" width="3.4" height="14.8" fill="#cc5646" stroke="#8e3a2f" stroke-width="0.6"/>
<line x1="789.34" y1="334.6" x2="789.34" y2="355.8" stroke="#727274" stroke-width="0.9"/>
<rect x="787.64" y="337.5" width="3.4" height="10.1" fill="#66a07f" stroke="#3d7052" stroke-width="0.6"/>
<line x1="795.07" y1="309.1" x2="795.07" y2="340.3" stroke="#727274" stroke-width="0.9"/>
<rect x="793.37" y="315.8" width="3.4" height="22.2" fill="#66a07f" stroke="#3d7052" stroke-width="0.6"/>
<line x1="800.80" y1="309.1" x2="800.80" y2="342.5" stroke="#727274" stroke-width="0.9"/>
<rect x="799.10" y="315.8" width="3.4" height="25.9" fill="#cc5646" stroke="#8e3a2f" stroke-width="0.6"/>
<line x1="806.52" y1="317.1" x2="806.52" y2="342.5" stroke="#727274" stroke-width="0.9"/>
<rect x="804.82" y="319.5" width="3.4" height="22.2" fill="#66a07f" stroke="#3d7052" stroke-width="0.6"/>
<line x1="812.25" y1="315.5" x2="812.25" y2="339.5" stroke="#727274" stroke-width="0.9"/>
<rect x="810.55" y="319.5" width="3.4" height="17.3" fill="#cc5646" stroke="#8e3a2f" stroke-width="0.6"/>
<line x1="817.98" y1="331.9" x2="817.98" y2="349.5" stroke="#727274" stroke-width="0.9"/>
<rect x="816.28" y="336.0" width="3.4" height="12.4" fill="#cc5646" stroke="#8e3a2f" stroke-width="0.6"/>
<line x1="823.71" y1="338.0" x2="823.71" y2="351.3" stroke="#727274" stroke-width="0.9"/>
<rect x="822.01" y="339.0" width="3.4" height="9.4" fill="#66a07f" stroke="#3d7052" stroke-width="0.6"/>
<line x1="829.44" y1="333.7" x2="829.44" y2="350.6" stroke="#727274" stroke-width="0.9"/>
<rect x="827.74" y="339.3" width="3.4" height="6.5" fill="#cc5646" stroke="#8e3a2f" stroke-width="0.6"/>
<line x1="835.16" y1="338.7" x2="835.16" y2="351.3" stroke="#727274" stroke-width="0.9"/>
<rect x="833.46" y="341.9" width="3.4" height="3.9" fill="#66a07f" stroke="#3d7052" stroke-width="0.6"/>
<line x1="840.89" y1="340.5" x2="840.89" y2="372.7" stroke="#727274" stroke-width="0.9"/>
<rect x="839.19" y="341.5" width="3.4" height="29.1" fill="#cc5646" stroke="#8e3a2f" stroke-width="0.6"/>
<line x1="846.62" y1="363.6" x2="846.62" y2="383.8" stroke="#727274" stroke-width="0.9"/>
<rect x="844.92" y="370.3" width="3.4" height="10.3" fill="#cc5646" stroke="#8e3a2f" stroke-width="0.6"/>
<line x1="852.35" y1="367.9" x2="852.35" y2="392.6" stroke="#727274" stroke-width="0.9"/>
<rect x="850.65" y="373.1" width="3.4" height="7.5" fill="#66a07f" stroke="#3d7052" stroke-width="0.6"/>
<line x1="858.08" y1="355.5" x2="858.08" y2="378.2" stroke="#727274" stroke-width="0.9"/>
<rect x="856.38" y="356.7" width="3.4" height="16.7" fill="#66a07f" stroke="#3d7052" stroke-width="0.6"/>
<line x1="863.80" y1="345.3" x2="863.80" y2="371.0" stroke="#727274" stroke-width="0.9"/>
<rect x="862.10" y="356.7" width="3.4" height="13.6" fill="#cc5646" stroke="#8e3a2f" stroke-width="0.6"/>
<line x1="869.53" y1="356.9" x2="869.53" y2="393.4" stroke="#727274" stroke-width="0.9"/>
<rect x="867.83" y="359.6" width="3.4" height="10.7" fill="#66a07f" stroke="#3d7052" stroke-width="0.6"/>
<line x1="875.26" y1="357.1" x2="875.26" y2="368.7" stroke="#727274" stroke-width="0.9"/>
<rect x="873.56" y="359.9" width="3.4" height="4.3" fill="#cc5646" stroke="#8e3a2f" stroke-width="0.6"/>
<line x1="880.99" y1="361.6" x2="880.99" y2="387.8" stroke="#727274" stroke-width="0.9"/>
<rect x="879.29" y="363.5" width="3.4" height="20.3" fill="#cc5646" stroke="#8e3a2f" stroke-width="0.6"/>
<line x1="886.72" y1="378.2" x2="886.72" y2="404.0" stroke="#727274" stroke-width="0.9"/>
<rect x="885.02" y="383.8" width="3.4" height="11.9" fill="#cc5646" stroke="#8e3a2f" stroke-width="0.6"/>
<line x1="892.44" y1="392.1" x2="892.44" y2="444.0" stroke="#727274" stroke-width="0.9"/>
<rect x="890.74" y="395.3" width="3.4" height="48.1" fill="#cc5646" stroke="#8e3a2f" stroke-width="0.6"/>
<line x1="898.17" y1="429.0" x2="898.17" y2="466.5" stroke="#727274" stroke-width="0.9"/>
<rect x="896.47" y="433.3" width="3.4" height="10.1" fill="#66a07f" stroke="#3d7052" stroke-width="0.6"/>
<line x1="903.90" y1="409.0" x2="903.90" y2="437.0" stroke="#727274" stroke-width="0.9"/>
<rect x="902.20" y="410.5" width="3.4" height="23.3" fill="#66a07f" stroke="#3d7052" stroke-width="0.6"/>
<line x1="909.63" y1="406.0" x2="909.63" y2="424.3" stroke="#727274" stroke-width="0.9"/>
<rect x="907.93" y="407.6" width="3.4" height="2.9" fill="#66a07f" stroke="#3d7052" stroke-width="0.6"/>
<line x1="915.36" y1="388.6" x2="915.36" y2="423.5" stroke="#727274" stroke-width="0.9"/>
<rect x="913.66" y="394.9" width="3.4" height="12.7" fill="#66a07f" stroke="#3d7052" stroke-width="0.6"/>
<line x1="921.08" y1="378.2" x2="921.08" y2="416.3" stroke="#727274" stroke-width="0.9"/>
<rect x="919.38" y="394.9" width="3.4" height="17.5" fill="#cc5646" stroke="#8e3a2f" stroke-width="0.6"/>
<line x1="926.81" y1="404.4" x2="926.81" y2="431.4" stroke="#727274" stroke-width="0.9"/>
<rect x="925.11" y="412.2" width="3.4" height="5.7" fill="#cc5646" stroke="#8e3a2f" stroke-width="0.6"/>
<line x1="932.54" y1="396.5" x2="932.54" y2="431.4" stroke="#727274" stroke-width="0.9"/>
<rect x="930.84" y="405.8" width="3.4" height="12.1" fill="#66a07f" stroke="#3d7052" stroke-width="0.6"/>
<line x1="938.27" y1="405.5" x2="938.27" y2="415.5" stroke="#c4c4c4" stroke-width="0.9"/>
<rect x="936.57" y="405.3" width="3.4" height="1.4" fill="#555" stroke="#444" stroke-width="0.6"/>
</g>
<line x1="2" y1="491.5" x2="995" y2="491.5" stroke="#6b6b6b" stroke-width="1"/>
<line x1="995" y1="22" x2="995" y2="492" stroke="#8a8a8a" stroke-width="1"/>
<rect x="0" y="22" width="3" height="480" fill="#eeeff2"/>
<line x1="993" y1="29.8" x2="997.5" y2="29.8" stroke="#777" stroke-width="0.8"/>
<text x="999.3" y="32.8" class="pl">1.43000</text>
<line x1="993" y1="52.7" x2="997.5" y2="52.7" stroke="#777" stroke-width="0.8"/>
<text x="999.3" y="55.7" class="pl">1.42500</text>
<line x1="993" y1="75.6" x2="997.5" y2="75.6" stroke="#777" stroke-width="0.8"/>
<text x="999.3" y="78.6" class="pl">1.42000</text>
<line x1="993" y1="98.5" x2="997.5" y2="98.5" stroke="#777" stroke-width="0.8"/>
<text x="999.3" y="101.5" class="pl">1.41500</text>
<line x1="993" y1="144.3" x2="997.5" y2="144.3" stroke="#777" stroke-width="0.8"/>
<text x="999.3" y="147.3" class="pl">1.40500</text>
<line x1="993" y1="167.2" x2="997.5" y2="167.2" stroke="#777" stroke-width="0.8"/>
<text x="999.3" y="170.2" class="pl">1.40000</text>
<line x1="993" y1="190.1" x2="997.5" y2="190.1" stroke="#777" stroke-width="0.8"/>
<text x="999.3" y="193.1" class="pl">1.39500</text>
<line x1="993" y1="213.0" x2="997.5" y2="213.0" stroke="#777" stroke-width="0.8"/>
<text x="999.3" y="216.0" class="pl">1.39000</text>
<line x1="993" y1="235.9" x2="997.5" y2="235.9" stroke="#777" stroke-width="0.8"/>
<text x="999.3" y="238.9" class="pl">1.38500</text>
<line x1="993" y1="258.8" x2="997.5" y2="258.8" stroke="#777" stroke-width="0.8"/>
<text x="999.3" y="261.8" class="pl">1.38000</text>
<line x1="993" y1="281.7" x2="997.5" y2="281.7" stroke="#777" stroke-width="0.8"/>
<text x="999.3" y="284.7" class="pl">1.37500</text>
<line x1="993" y1="304.6" x2="997.5" y2="304.6" stroke="#777" stroke-width="0.8"/>
<text x="999.3" y="307.6" class="pl">1.37000</text>
<line x1="993" y1="327.5" x2="997.5" y2="327.5" stroke="#777" stroke-width="0.8"/>
<text x="999.3" y="330.5" class="pl">1.36500</text>
<line x1="993" y1="350.4" x2="997.5" y2="350.4" stroke="#777" stroke-width="0.8"/>
<text x="999.3" y="353.4" class="pl">1.36000</text>
<line x1="993" y1="373.3" x2="997.5" y2="373.3" stroke="#777" stroke-width="0.8"/>
<text x="999.3" y="376.3" class="pl">1.35500</text>
<line x1="993" y1="396.2" x2="997.5" y2="396.2" stroke="#777" stroke-width="0.8"/>
<text x="999.3" y="399.2" class="pl">1.35000</text>
<line x1="993" y1="419.1" x2="997.5" y2="419.1" stroke="#777" stroke-width="0.8"/>
<text x="999.3" y="422.1" class="pl">1.34500</text>
<line x1="993" y1="442.0" x2="997.5" y2="442.0" stroke="#777" stroke-width="0.8"/>
<text x="999.3" y="445.0" class="pl">1.34000</text>
<line x1="993" y1="487.8" x2="997.5" y2="487.8" stroke="#777" stroke-width="0.8"/>
<text x="999.3" y="490.8" class="pl">1.33000</text>
<rect x="995" y="118.0" width="28" height="9.2" fill="#131313"/>
<text x="999.3" y="125.3" class="pl" style="fill:#fff">1.41000</text>
<rect x="995" y="461.7" width="28" height="9.2" fill="#131313"/>
<text x="999.3" y="469.0" class="pl" style="fill:#fff">1.33500</text>
<rect x="995" y="401.7" width="28" height="9.2" fill="#5c9f78"/>
<text x="999.3" y="409.0" class="pl" style="fill:#fff">1.34802</text>
<line x1="44.7" y1="491" x2="44.7" y2="494" stroke="#777" stroke-width="0.8"/>
<text x="44.7" y="500" class="tl" text-anchor="middle">13</text>
<line x1="113.4" y1="491" x2="113.4" y2="494" stroke="#777" stroke-width="0.8"/>
<text x="113.4" y="500" class="tl b" text-anchor="middle">Mar</text>
<line x1="159.3" y1="491" x2="159.3" y2="494" stroke="#777" stroke-width="0.8"/>
<text x="159.3" y="500" class="tl" text-anchor="middle">13</text>
<line x1="245.2" y1="491" x2="245.2" y2="494" stroke="#777" stroke-width="0.8"/>
<text x="245.2" y="500" class="tl b" text-anchor="middle">Apr</text>
<line x1="302.5" y1="491" x2="302.5" y2="494" stroke="#777" stroke-width="0.8"/>
<text x="302.5" y="500" class="tl" text-anchor="middle">17</text>
<line x1="359.7" y1="491" x2="359.7" y2="494" stroke="#777" stroke-width="0.8"/>
<text x="359.7" y="500" class="tl b" text-anchor="middle">May</text>
<line x1="417.0" y1="491" x2="417.0" y2="494" stroke="#777" stroke-width="0.8"/>
<text x="417.0" y="500" class="tl" text-anchor="middle">15</text>
<line x1="491.5" y1="491" x2="491.5" y2="494" stroke="#777" stroke-width="0.8"/>
<text x="491.5" y="500" class="tl b" text-anchor="middle">Jun</text>
<line x1="560.2" y1="491" x2="560.2" y2="494" stroke="#777" stroke-width="0.8"/>
<text x="560.2" y="500" class="tl" text-anchor="middle">19</text>
<line x1="617.5" y1="491" x2="617.5" y2="494" stroke="#777" stroke-width="0.8"/>
<text x="617.5" y="500" class="tl b" text-anchor="middle">Jul</text>
<line x1="674.8" y1="491" x2="674.8" y2="494" stroke="#777" stroke-width="0.8"/>
<text x="674.8" y="500" class="tl" text-anchor="middle">17</text>
<line x1="737.8" y1="491" x2="737.8" y2="494" stroke="#777" stroke-width="0.8"/>
<text x="737.8" y="500" class="tl b" text-anchor="middle">Aug</text>
<line x1="789.3" y1="491" x2="789.3" y2="494" stroke="#777" stroke-width="0.8"/>
<text x="789.3" y="500" class="tl" text-anchor="middle">14</text>
<line x1="869.5" y1="491" x2="869.5" y2="494" stroke="#777" stroke-width="0.8"/>
<text x="869.5" y="500" class="tl b" text-anchor="middle">Sep</text>
<line x1="932.5" y1="491" x2="932.5" y2="494" stroke="#777" stroke-width="0.8"/>
<text x="932.5" y="500" class="tl" text-anchor="middle">18</text>
<line x1="989.8" y1="491" x2="989.8" y2="494" stroke="#777" stroke-width="0.8"/>
<text x="989.8" y="500" class="tl b" text-anchor="middle">Oct</text>
<text x="3" y="500" class="tl" text-anchor="middle">6</text>
<rect x="3" y="23" width="111" height="16" fill="#fff"/>
<rect x="68.0" y="41" width="8.3" height="7.8" fill="#47a7da"/><circle cx="72.15" cy="44.9" r="2" fill="none" stroke="#fff" stroke-width="0.8"/><rect x="78.10000000000001" y="41.4" width="7.5" height="7" fill="#ececec" stroke="#d2d2d2" stroke-width="0.8"/><rect x="79.9" y="43.2" width="4" height="3.5" fill="none" stroke="#c5c5c5" stroke-width="0.7"/><rect x="87.80000000000001" y="41.4" width="7.5" height="7" fill="#ececec" stroke="#d2d2d2" stroke-width="0.8"/><rect x="89.60000000000001" y="43.2" width="4" height="3.5" fill="none" stroke="#c5c5c5" stroke-width="0.7"/><rect x="97.5" y="41.4" width="7.5" height="7" fill="#ececec" stroke="#d2d2d2" stroke-width="0.8"/><rect x="99.3" y="43.2" width="4" height="3.5" fill="none" stroke="#c5c5c5" stroke-width="0.7"/>
<rect x="64.0" y="51.8" width="8.3" height="7.8" fill="#47a7da"/><circle cx="68.15" cy="55.699999999999996" r="2" fill="none" stroke="#fff" stroke-width="0.8"/><rect x="74.10000000000001" y="52.199999999999996" width="7.5" height="7" fill="#ececec" stroke="#d2d2d2" stroke-width="0.8"/><rect x="75.9" y="54.0" width="4" height="3.5" fill="none" stroke="#c5c5c5" stroke-width="0.7"/><rect x="83.80000000000001" y="52.199999999999996" width="7.5" height="7" fill="#ececec" stroke="#d2d2d2" stroke-width="0.8"/><rect x="85.60000000000001" y="54.0" width="4" height="3.5" fill="none" stroke="#c5c5c5" stroke-width="0.7"/><rect x="93.5" y="52.199999999999996" width="7.5" height="7" fill="#ececec" stroke="#d2d2d2" stroke-width="0.8"/><rect x="95.3" y="54.0" width="4" height="3.5" fill="none" stroke="#c5c5c5" stroke-width="0.7"/>
<rect x="64.4" y="62.699999999999996" width="7.5" height="7" fill="#ececec" stroke="#d2d2d2" stroke-width="0.8"/><rect x="66.2" y="64.5" width="4" height="3.5" fill="none" stroke="#c5c5c5" stroke-width="0.7"/><rect x="74.10000000000001" y="62.699999999999996" width="7.5" height="7" fill="#ececec" stroke="#d2d2d2" stroke-width="0.8"/><rect x="75.9" y="64.5" width="4" height="3.5" fill="none" stroke="#c5c5c5" stroke-width="0.7"/><rect x="83.80000000000001" y="62.699999999999996" width="7.5" height="7" fill="#ececec" stroke="#d2d2d2" stroke-width="0.8"/><rect x="85.60000000000001" y="64.5" width="4" height="3.5" fill="none" stroke="#c5c5c5" stroke-width="0.7"/><rect x="93.5" y="62.699999999999996" width="7.5" height="7" fill="#ececec" stroke="#d2d2d2" stroke-width="0.8"/><rect x="95.3" y="64.5" width="4" height="3.5" fill="none" stroke="#c5c5c5" stroke-width="0.7"/>
<path d="M58.3,43.2 L62.3,43.2 L60.3,45.7 Z" fill="#ccc"/>
<path d="M106.5,31.5 L110.5,31.5 L108.5,34.0 Z" fill="#c8c8c8"/>
<rect x="6.3" y="28.6" width="6.6" height="6.6" fill="none" stroke="#8c8c8c" stroke-width="0.8"/><line x1="6.3" y1="31.9" x2="12.9" y2="31.9" stroke="#8c8c8c" stroke-width="0.8"/>
<rect x="117" y="28.8" width="7" height="6.5" fill="#e6e6e6" stroke="#cfcfcf" stroke-width="0.8"/>
<rect x="126.5" y="28.8" width="7" height="6.5" fill="#efefef" stroke="#cfcfcf" stroke-width="0.8"/>
</svg>
<div id="tb"></div>
<div id="sep"></div>
<div class="bt" style="left:2px;width:55px;text-align:left;padding-left:5px;font-size:6.5px">USDSGD</div>
<div class="bt" style="left:59px;width:20px">15</div>
<div class="bt" style="left:80px;width:21px">1h</div>
<div class="bt" style="left:102px;width:20px">4h</div>
<div class="bt" style="left:123px;width:21px;color:#3ea6e0;background:#f7fbfe">1D</div>
<div class="bt" style="left:145px;width:22px">1W</div>
<div class="bt" style="left:168px;width:21px">1D</div>
<div class="bt" style="left:190px;width:23px"></div>
<div class="bt" style="left:216px;width:37px"></div>
<div class="bt" style="left:255px;width:20px"></div>
<div class="bt" style="left:278px;width:37px">Compare</div>
<div class="bt" style="left:318px;width:53px;text-align:left;padding-left:7px">Indicators</div>
<div class="bt" style="left:375px;width:21px"></div>
<div class="bt" style="left:400px;width:31px"></div>
<div class="bt" style="left:434px;width:29px"></div>
<div class="bt" style="left:466px;width:18px"></div>
<div class="bt" style="left:890px;width:28px"></div>
<div class="bt" style="left:919px;width:29px"></div>
<div class="bt" style="left:949px;width:29px"></div>
<div class="bt" style="left:979px;width:33px;background:#e6e8eb;color:#8a8a8a;-webkit-text-stroke:0">SR</div>
<div class="bt" style="left:1013px;width:11px"></div>
<svg width="1024" height="22" viewBox="0 0 1024 22" style="z-index:5">
<circle cx="195" cy="6.8" r="0.9" fill="#555"/>
<circle cx="195" cy="10.3" r="0.9" fill="#555"/>
<circle cx="195" cy="13.7" r="0.9" fill="#555"/>
<path d="M204,8.8 L208,8.8 L206,11.3 Z" fill="#333"/>
<line x1="225.5" y1="5" x2="225.5" y2="16" stroke="#444" stroke-width="0.8"/>
<rect x="224" y="7.5" width="3" height="6" fill="#fff" stroke="#444" stroke-width="0.8"/>
<line x1="229.5" y1="5" x2="229.5" y2="16" stroke="#444" stroke-width="0.8"/>
<rect x="228" y="6.5" width="3" height="7" fill="#444"/>
<path d="M243.5,8.8 L247.5,8.8 L245.5,11.3 Z" fill="#333"/>
<polygon points="269.60,10.20 268.14,11.50 268.25,13.45 266.30,13.34 265.00,14.80 263.70,13.34 261.75,13.45 261.86,11.50 260.40,10.20 261.86,8.90 261.75,6.95 263.70,7.06 265.00,5.60 266.30,7.06 268.25,6.95 268.14,8.90" fill="#555"/>
<circle cx="265" cy="10.2" r="1.6" fill="#fff"/>
<path d="M362.5,8.6 L366.5,8.6 L364.5,11.1 Z" fill="#333"/>
<path d="M381,6 L388,6 M381,6 L381,14 L386,14 M388,6 L388,10 M382.5,12.5 L386,7.5" stroke="#555" stroke-width="1.1" fill="none"/>
<path d="M386.5,13.5 L392,13.5 M389.3,11 L389.3,16" stroke="#555" stroke-width="1" fill="none"/>
<circle cx="410" cy="9" r="2.7" fill="#fff" stroke="#555" stroke-width="0.9"/>
<rect x="408.6" y="11.8" width="2.8" height="2.4" fill="#555"/>
<path d="M404,9 L406,9 M414,9 L416,9 M410,3.5 L410,5.2" stroke="#888" stroke-width="0.7"/>
<path d="M422.5,8.8 L426.5,8.8 L424.5,11.3 Z" fill="#333"/>
<path d="M445.5,13 Q445,9.3 441,9.5" stroke="#555" stroke-width="1.3" fill="none"/><path d="M438.5,9.6 L441.8,7 L441.8,12 Z" fill="#555"/>
<rect x="449" y="2" width="14" height="15" fill="#f3f4f6"/>
<path d="M451.5,13 Q452,9.3 456,9.5" stroke="#bbb" stroke-width="1.3" fill="none"/><path d="M458.5,9.6 L455.2,7 L455.2,12 Z" fill="#bbb"/>
<path d="M470,5 L473,8 M470,5 L472.3,5 M470,5 L470,7.3 M481,5 L478,8 M481,5 L478.7,5 M481,5 L481,7.3 M470,15 L473,12 M470,15 L472.3,15 M470,15 L470,12.7 M481,15 L478,12 M481,15 L478.7,15 M481,15 L481,12.7" stroke="#444" stroke-width="1.1" fill="none"/>
<rect x="894.5" y="5.5" width="9.5" height="9.5" fill="#e2e2e2" stroke="#999" stroke-width="0.8"/>
<path d="M909,9 L913,9 L911,11.5 Z" fill="#333"/>
<path d="M927.5,14.5 Q925.0,14.5 925.5,11.5 Q926.0,9.3 928.5,9.6 Q929.5,5.5 933.5,5.8 Q938.0,6 938.5,10 Q941.5,10.2 941.0,12.8 Q940.5,14.5 938.5,14.5 Z" fill="#fff" stroke="#777" stroke-width="0.8"/><path d="M933.5,9 L933.5,14 M931.5,12 L933.5,14.5 L935.5,12" stroke="#666" stroke-width="0.9" fill="none"/>
<path d="M957.5,14.5 Q955.0,14.5 955.5,11.5 Q956.0,9.3 958.5,9.6 Q959.5,5.5 963.5,5.8 Q968.0,6 968.5,10 Q971.5,10.2 971.0,12.8 Q970.5,14.5 968.5,14.5 Z" fill="#fff" stroke="#777" stroke-width="0.8"/><path d="M961.2,11.5 L963.5,8.5 L965.8,11.5 Z M962.5,11.2 L964.5,11.2 L964.5,15 L962.5,15 Z" fill="#555"/>
<path d="M1017,9 L1021,9 L1019,11.5 Z" fill="#333"/>
</svg>

<div class="lg" style="left:16.5px;top:27.5px;font-size:8.4px;color:#333;letter-spacing:0.25px;-webkit-text-stroke:0.1px #333">USD/SGD, D, OANDA</div>
<div class="lg ohlc" style="left:138px"><span style="color:#505050">O</span><span style="margin-left:0.6px">1.34784</span></div><div class="lg ohlc" style="left:179.6px"><span style="color:#505050">H</span><span style="margin-left:0.6px">1.34807</span></div><div class="lg ohlc" style="left:221px"><span style="color:#505050">L</span><span style="margin-left:0.6px">1.34561</span></div><div class="lg ohlc" style="left:261px"><span style="color:#505050">C</span><span style="margin-left:0.6px">1.34802</span></div>
<div class="lg" style="left:5.5px;top:40.5px;font-size:6.5px;color:#d6d6d6">EMA (200, close)</div>
<div class="lg" style="left:5.5px;top:51.5px;font-size:6.5px;color:#d6d6d6">EMA (50, 21)</div>
<div class="lg" style="left:5.5px;top:62.5px;font-size:6.5px;color:#666">EMA (50, close)</div>
<div class="lg" style="left:106px;top:62.5px;font-size:6.5px;color:#5252b2">1.3595</div>
</body></html>
